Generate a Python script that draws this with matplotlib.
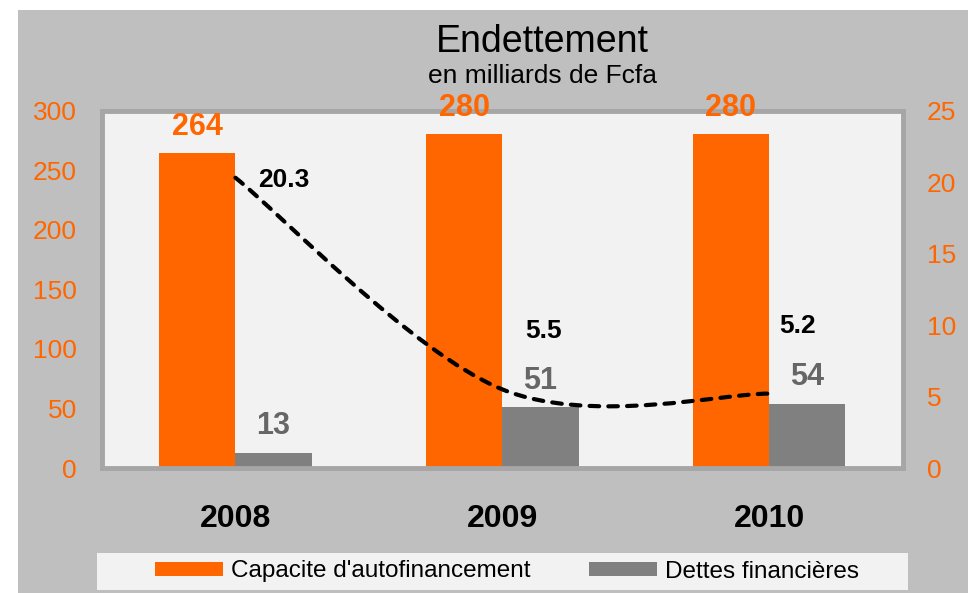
import matplotlib
matplotlib.use('Agg')
import matplotlib.pyplot as plt
from matplotlib.path import Path
from matplotlib.patches import PathPatch, Rectangle, Patch
import numpy as np

plt.rcParams['font.family'] = ['Liberation Sans', 'DejaVu Sans']

# ---- data ----
years = ['2008', '2009', '2010']
caf = [264, 280, 280]            # Capacite d'autofinancement
dettes = [13, 51, 54]            # Dettes financieres
ratio = [20.3, 5.5, 5.2]         # secondary axis (dashed line)
left_ticks = [0, 50, 100, 150, 200, 250, 300]
right_ticks = [0, 5, 10, 15, 20, 25]
title = 'Endettement'
subtitle = 'en milliards de Fcfa'
legend_labels = ["Capacite d'autofinancement", 'Dettes financières']

ORANGE = '#FF6600'
GRAY = '#808080'
LABEL_GRAY = '#666666'
PANEL = '#BFBFBF'
PLOT_BG = '#F2F2F2'
BORDER = '#A6A6A6'

W, H = 968, 593
fig = plt.figure(figsize=(W / 100, H / 100), dpi=100)
fig.patch.set_facecolor('white')

# gray outer panel
fig.add_artist(Rectangle((18 / W, 0), 1 - 18 / W, (H - 10) / H, transform=fig.transFigure,
                         facecolor=PANEL, edgecolor='none', zorder=0))
# legend background
fig.add_artist(Rectangle((97 / W, (H - 590) / H), (908 - 97) / W, (590 - 553) / H,
                         transform=fig.transFigure, facecolor=PLOT_BG, edgecolor='none', zorder=1))

ax = fig.add_axes([102 / W, (H - 468) / H, (902.5 - 102) / W, (468 - 110.5) / H])
ax.set_facecolor(PLOT_BG)
x = np.arange(len(years))
w = 0.286
b1 = ax.bar(x - w / 2, caf, w, color=ORANGE, zorder=2)
b2 = ax.bar(x + w / 2, dettes, w, color=GRAY, zorder=2)
ax.set_xlim(-0.5, len(years) - 0.5)
ax.set_ylim(left_ticks[0], left_ticks[-1])
ax.set_yticks(left_ticks)
ax.set_yticklabels([str(t) for t in left_ticks])
ax.tick_params(axis='y', length=0, pad=18, labelsize=19, labelcolor=ORANGE)
ax.set_xticks(x)
ax.set_xticklabels(years, fontsize=23, fontweight='bold')
ax.tick_params(axis='x', length=0, pad=26)
for s in ax.spines.values():
    s.set_color(BORDER)
    s.set_linewidth(3.5)

for xi, v in zip(x, caf):
    ax.annotate(str(v), (xi - w / 2, v), xytext=(0, 13.3), textcoords='offset points',
                ha='center', va='baseline', fontsize=22, fontweight='bold', color=ORANGE)
for xi, v in zip(x, dettes):
    ax.annotate(str(v), (xi + w / 2, v), xytext=(0, 13.3), textcoords='offset points',
                ha='center', va='baseline', fontsize=22, fontweight='bold', color=LABEL_GRAY)

ax2 = ax.twinx()
ax2.set_ylim(right_ticks[0], right_ticks[-1])
ax2.set_yticks(right_ticks)
ax2.set_yticklabels([str(t) for t in right_ticks])
ax2.tick_params(axis='y', length=0, pad=17.5, labelsize=19, labelcolor=ORANGE)
for s in ax2.spines.values():
    s.set_visible(False)

# smoothed dashed line (cubic Bezier through the data points)
P = np.column_stack([x, ratio]).astype(float)
n = len(P)
verts = [tuple(P[0])]
codes = [Path.MOVETO]
for i in range(n - 1):
    prev = P[i - 1] if i > 0 else P[i]
    nxt = P[i + 2] if i + 2 < n else P[i + 1]
    c1 = P[i] + (P[i + 1] - prev) / 6
    c2 = P[i + 1] - (nxt - P[i]) / 6
    verts += [tuple(c1), tuple(c2), tuple(P[i + 1])]
    codes += [Path.CURVE4] * 3
ax2.add_patch(PathPatch(Path(verts, codes), facecolor='none', edgecolor='black',
                        linewidth=3.0, linestyle=(0, (2.3, 2.2)), capstyle='round', zorder=3))

offsets = [(16.3, -6.5), (16.5, 37), (7, 43.7)]
for xi, v, off in zip(x, ratio, offsets):
    ax2.annotate(f'{v:.1f}', (xi, v), xytext=off, textcoords='offset points',
                 ha='left', va='baseline', fontsize=19, fontweight='bold', color='black')

fig.text(542.5 / W, (H - 51.7) / H, title, ha='center', va='baseline', fontsize=27, color='black')
fig.text(542 / W, (H - 83) / H, subtitle, ha='center', va='baseline', fontsize=19, color='black')

handles = [Patch(facecolor=ORANGE, edgecolor='none'), Patch(facecolor=GRAY, edgecolor='none')]
leg = fig.legend(handles, legend_labels, loc='center', bbox_to_anchor=(507 / W, (H - 571.5) / H),
                 ncol=2, frameon=False, fontsize=17.5, handlelength=2.8, handleheight=0.52,
                 handletextpad=0.33, columnspacing=2.43, borderpad=0, borderaxespad=0)
leg.set_zorder(5)

fig.savefig('out.png', dpi=100, facecolor='white')
